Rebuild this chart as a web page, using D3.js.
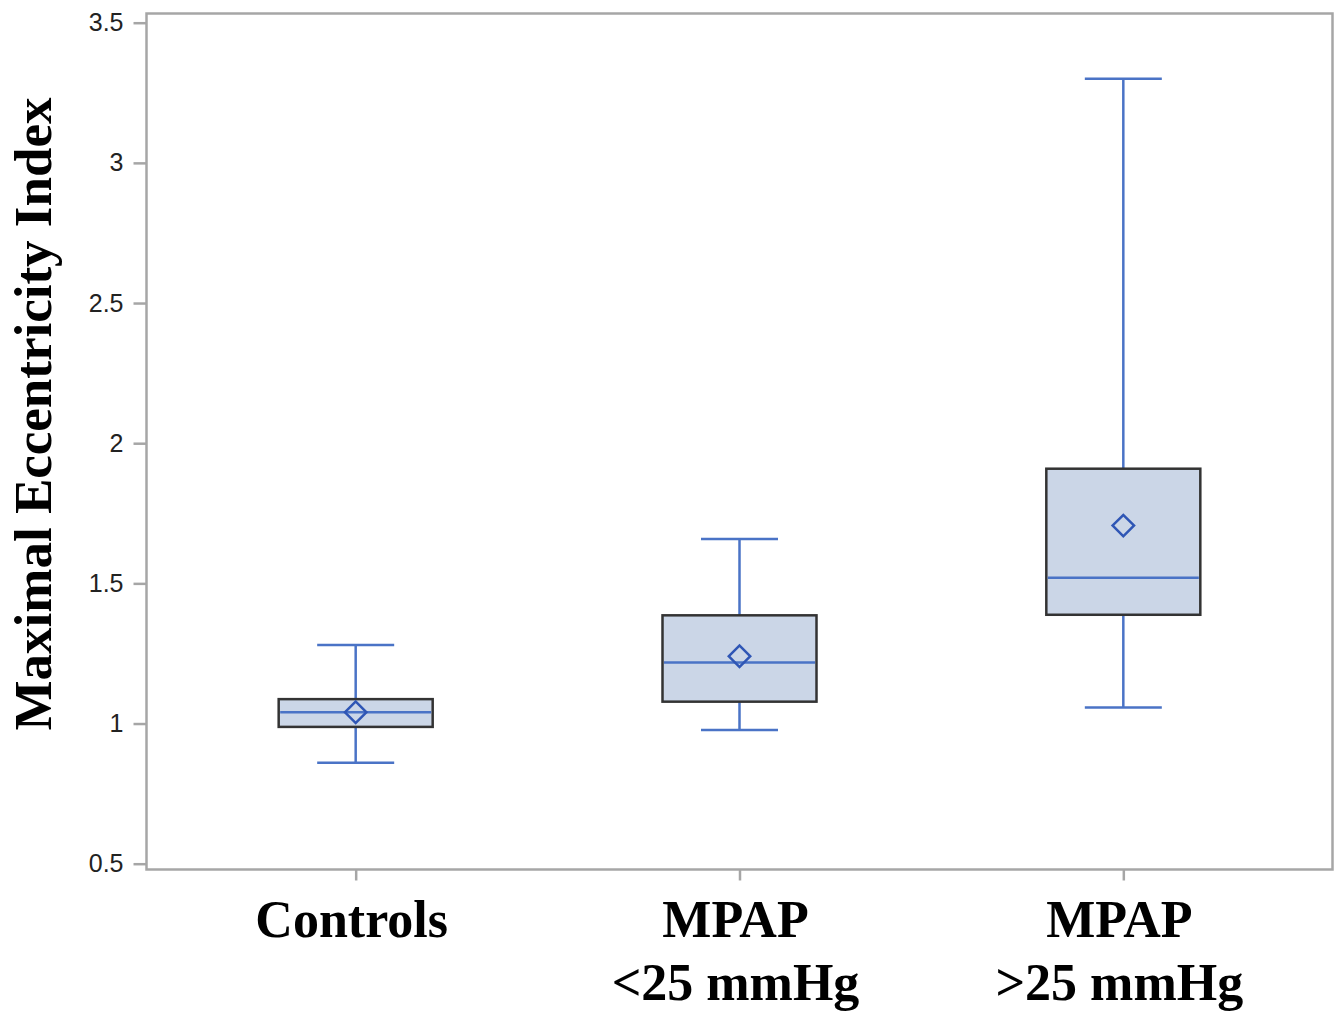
<!DOCTYPE html>
<html>
<head>
<meta charset="utf-8">
<script src="https://cdn.jsdelivr.net/npm/d3@7"></script>
<style>
  body { margin: 0; background: #fff; }
  svg { display: block; }
</style>
</head>
<body>
<svg width="1340" height="1013"></svg>
<script>
(function () {

	// data
	var groups = ['Controls', 'MPAP <25 mmHg', 'MPAP >25 mmHg'];
	var labelLines = [['Controls'], ['MPAP', '<25 mmHg'], ['MPAP', '>25 mmHg']];
	var mins    = [0.86, 0.977, 1.057];
	var q1s     = [0.988, 1.078, 1.388];
	var medians = [1.04, 1.218, 1.52];
	var q3s     = [1.087, 1.386, 1.909];
	var maxs    = [1.28, 1.658, 3.30];
	var means   = [1.04, 1.24, 1.706];
	var yTicks  = [0.5, 1, 1.5, 2, 2.5, 3, 3.5];

	var boxes = groups.map(function (g, i) {
		return {name: g, lines: labelLines[i], min: mins[i], q1: q1s[i], med: medians[i],
			q3: q3s[i], max: maxs[i], mean: means[i]};
	});

	var left = 146.5, right = 1332.5, top = 13.5, bottom = 869.5;
	var blue = '#4a73c6';

	var svg = d3.select('svg');

	var y = d3.scaleLinear().domain([0.5, 3.5]).range([863.7, 22.7]);
	var x = d3.scalePoint().domain(groups).range([left, right]).padding(0.545);

	var boxW = 154, capW = 77;

	// axes
	var yAxis = svg.append('g')
		.attr('transform', 'translate(' + left + ',0)')
		.call(d3.axisLeft(y).tickValues(yTicks).tickSize(13).tickPadding(10)
			.tickFormat(function (d) { return d; }));
	yAxis.select('.domain').remove();
	yAxis.selectAll('line').attr('stroke', '#a6a6a6').attr('stroke-width', 2.5);
	yAxis.selectAll('text')
		.attr('font-family', 'Liberation Sans, Arial, sans-serif')
		.attr('font-size', 25)
		.attr('fill', '#222');

	var xAxis = svg.append('g')
		.attr('transform', 'translate(0,' + bottom + ')')
		.call(d3.axisBottom(x).tickSize(11).tickFormat(''));
	xAxis.select('.domain').remove();
	xAxis.selectAll('line').attr('stroke', '#a6a6a6').attr('stroke-width', 2.5);

	// frame
	svg.append('rect')
		.attr('x', left).attr('y', top)
		.attr('width', right - left).attr('height', bottom - top)
		.attr('fill', 'none')
		.attr('stroke', '#a6a6a6')
		.attr('stroke-width', 2.5);

	// box plots
	var g = svg.selectAll('.box')
		.data(boxes)
		.enter().append('g')
		.attr('class', 'box');

	// whiskers
	g.append('line')
		.attr('x1', function (d) { return x(d.name); })
		.attr('x2', function (d) { return x(d.name); })
		.attr('y1', function (d) { return y(d.max); })
		.attr('y2', function (d) { return y(d.q3); })
		.attr('stroke', blue).attr('stroke-width', 2.5);
	g.append('line')
		.attr('x1', function (d) { return x(d.name); })
		.attr('x2', function (d) { return x(d.name); })
		.attr('y1', function (d) { return y(d.q1); })
		.attr('y2', function (d) { return y(d.min); })
		.attr('stroke', blue).attr('stroke-width', 2.5);
	['max', 'min'].forEach(function (k) {
		g.append('line')
			.attr('x1', function (d) { return x(d.name) - capW / 2; })
			.attr('x2', function (d) { return x(d.name) + capW / 2; })
			.attr('y1', function (d) { return y(d[k]); })
			.attr('y2', function (d) { return y(d[k]); })
			.attr('stroke', blue).attr('stroke-width', 2.5);
	});

	g.append('rect')
		.attr('x', function (d) { return x(d.name) - boxW / 2; })
		.attr('y', function (d) { return y(d.q3); })
		.attr('width', boxW)
		.attr('height', function (d) { return y(d.q1) - y(d.q3); })
		.attr('fill', '#cbd6e7')
		.attr('stroke', '#333')
		.attr('stroke-width', 2.5);

	g.append('line')
		.attr('x1', function (d) { return x(d.name) - boxW / 2 + 1.5; })
		.attr('x2', function (d) { return x(d.name) + boxW / 2 - 1.5; })
		.attr('y1', function (d) { return y(d.med); })
		.attr('y2', function (d) { return y(d.med); })
		.attr('stroke', blue).attr('stroke-width', 2.5);

	g.append('path')
		.attr('d', d3.symbol().type(d3.symbolSquare).size(230))
		.attr('transform', function (d) {
			return 'translate(' + x(d.name) + ',' + y(d.mean) + ') rotate(45)';
		})
		.attr('fill', 'none')
		.attr('stroke', '#2f56b5')
		.attr('stroke-width', 2.5);

	// category labels
	var lab = svg.selectAll('.xlab')
		.data(boxes)
		.enter().append('text')
		.attr('class', 'xlab')
		.attr('text-anchor', 'middle')
		.attr('font-family', 'Liberation Serif, Times New Roman, serif')
		.attr('font-weight', 'bold')
		.attr('font-size', 52)
		.attr('fill', '#000');
	lab.selectAll('tspan')
		.data(function (d) { return d.lines.map(function (l) { return {t: l, x: x(d.name) - 4}; }); })
		.enter().append('tspan')
		.attr('x', function (d) { return d.x; })
		.attr('y', function (d, i) { return 937 + i * 63; })
		.text(function (d) { return d.t; });

	// y title
	svg.append('text')
		.attr('transform', 'translate(51,' + 414 + ') rotate(-90)')
		.attr('text-anchor', 'middle')
		.attr('font-family', 'Liberation Serif, Times New Roman, serif')
		.attr('font-weight', 'bold')
		.attr('font-size', 53)
		.attr('fill', '#000')
		.text('Maximal Eccentricity Index');

})();
</script>
</body>
</html>
